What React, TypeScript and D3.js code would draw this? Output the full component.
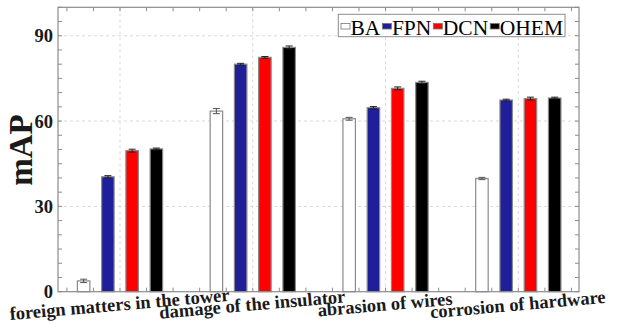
import React, { useEffect, useRef } from "react";
import * as d3 from "d3";

const categories = [
  "foreign matters in the tower",
  "damage of the insulator",
  "abrasion of wires",
  "corrosion of hardware",
];
const seriesNames = ["BA", "FPN", "DCN", "OHEM"];
const BA = [3.8, 63.5, 60.8, 39.8];
const FPN = [40.4, 80.0, 64.7, 67.4];
const DCN = [49.6, 82.4, 71.5, 67.9];
const OHEM = [50.2, 85.9, 73.6, 68.1];
const BA_err = [0.6, 0.9, 0.5, 0.4];
const FPN_err = [0.4, 0.3, 0.4, 0.3];
const DCN_err = [0.5, 0.3, 0.5, 0.5];
const OHEM_err = [0.3, 0.5, 0.4, 0.3];
const yTicks = [0, 30, 60, 90];
const colors = ["#ffffff", "#1f1f99", "#ff0000", "#000000"];

const W = 620;
const H = 324;
const FONT = "'Liberation Serif', 'Times New Roman', serif";

export default function App() {
  const ref = useRef<SVGSVGElement | null>(null);

  useEffect(() => {
    const svg = d3.select(ref.current);
    svg.selectAll("*").remove();

    const left = 58, right = 579, top = 7.3, bottom = 291.7;
    const x = d3.scaleLinear().domain([0.533, 4.457]).range([left, right]);
    const y = d3.scaleLinear().domain([0, 100]).range([bottom, top]);
    const off = d3.scalePoint<string>().domain(seriesNames).range([-0.274, 0.274]);
    const barW = 0.094;

    const values = [BA, FPN, DCN, OHEM];
    const errs = [BA_err, FPN_err, DCN_err, OHEM_err];

    // gridlines
    const grid = svg.append("g");
    yTicks.filter((t) => t > 0).forEach((t) => {
      grid.append("line")
        .attr("x1", left).attr("x2", right)
        .attr("y1", y(t)).attr("y2", y(t))
        .attr("stroke", "#d9d9d9").attr("stroke-dasharray", "3,3").attr("stroke-width", 1);
    });
    categories.forEach((_, i) => {
      grid.append("line")
        .attr("x1", x(i + 1)).attr("x2", x(i + 1))
        .attr("y1", top).attr("y2", bottom)
        .attr("stroke", "#d9d9d9").attr("stroke-dasharray", "3,3").attr("stroke-width", 1);
    });

    // bars
    const bars = svg.append("g");
    seriesNames.forEach((s, si) => {
      categories.forEach((_, ci) => {
        const cx = ci + 1 + (off(s) as number);
        const v = values[si][ci];
        const x0 = x(cx - barW / 2);
        const x1 = x(cx + barW / 2);
        bars.append("rect")
          .attr("x", x0).attr("y", y(v))
          .attr("width", x1 - x0).attr("height", bottom - y(v))
          .attr("fill", colors[si])
          .attr("stroke", "#8a8a8a").attr("stroke-width", 1.2);
        const e = errs[si][ci];
        const ec = si === 0 ? "#555" : "#222";
        const capHalf = 3.5;
        bars.append("line")
          .attr("x1", x(cx)).attr("x2", x(cx))
          .attr("y1", y(v - e)).attr("y2", y(v + e))
          .attr("stroke", ec).attr("stroke-width", 1);
        [v - e, v + e].forEach((yy) => {
          bars.append("line")
            .attr("x1", x(cx) - capHalf).attr("x2", x(cx) + capHalf)
            .attr("y1", y(yy)).attr("y2", y(yy))
            .attr("stroke", ec).attr("stroke-width", 1);
        });
      });
    });

    // axes box
    const axis = svg.append("g");
    axis.append("rect")
      .attr("x", left).attr("y", top)
      .attr("width", right - left).attr("height", bottom - top)
      .attr("fill", "none").attr("stroke", "#8c8c8c").attr("stroke-width", 1.2);

    // ticks
    const yMinor = d3.range(0, 101, 5);
    yMinor.forEach((t) => {
      axis.append("line").attr("x1", left).attr("x2", left + 4)
        .attr("y1", y(t)).attr("y2", y(t)).attr("stroke", "#8c8c8c");
      axis.append("line").attr("x1", right).attr("x2", right - 4)
        .attr("y1", y(t)).attr("y2", y(t)).attr("stroke", "#8c8c8c");
    });
    const xMinor = d3.range(0.6, 4.41, 0.2);
    xMinor.forEach((t) => {
      axis.append("line").attr("x1", x(t)).attr("x2", x(t))
        .attr("y1", bottom).attr("y2", bottom - 4).attr("stroke", "#8c8c8c");
      axis.append("line").attr("x1", x(t)).attr("x2", x(t))
        .attr("y1", top).attr("y2", top + 4).attr("stroke", "#8c8c8c");
    });

    // y tick labels
    yTicks.forEach((t) => {
      axis.append("text")
        .attr("x", 53).attr("y", y(t))
        .attr("dy", "0.35em")
        .attr("text-anchor", "end")
        .attr("font-family", FONT).attr("font-weight", "bold")
        .attr("font-size", 18.5).attr("fill", "#1a1a1a")
        .text(String(t));
    });

    // y label
    svg.append("text")
      .attr("transform", `translate(32,150) rotate(-90)`)
      .attr("text-anchor", "middle")
      .attr("font-family", FONT).attr("font-weight", "bold")
      .attr("font-size", 33).attr("fill", "#1a1a1a")
      .text("mAP");

    // category labels
    categories.forEach((c, i) => {
      svg.append("text")
        .attr("transform", `translate(${x(i + 1)},310.5) rotate(-5)`)
        .attr("text-anchor", "middle")
        .attr("font-family", FONT).attr("font-weight", "bold")
        .attr("font-size", 18.5).attr("fill", "#1a1a1a")
        .text(c);
    });

    // legend
    const lg = svg.append("g");
    const box = lg.append("rect")
      .attr("x", 338.3).attr("y", 14.3)
      .attr("height", 22.4)
      .attr("fill", "#fff").attr("stroke", "#8c8c8c").attr("stroke-width", 1);
    let cursor = 341;
    seriesNames.forEach((s, si) => {
      lg.append("rect")
        .attr("x", cursor).attr("y", 23.5)
        .attr("width", 9).attr("height", 5.5)
        .attr("fill", colors[si]).attr("stroke", "#777").attr("stroke-width", 0.8);
      const t = lg.append("text")
        .attr("x", cursor + 9.5).attr("y", 34.5)
        .attr("font-family", FONT).attr("font-size", 21.5).attr("fill", "#000")
        .text(s);
      const len = (t.node() as SVGTextElement).getComputedTextLength();
      cursor = cursor + 9.5 + len + 2;
    });
    box.attr("width", cursor - 338.3);
  }, []);

  return (
    <svg
      ref={ref}
      width={W}
      height={H}
      style={{ position: "absolute", left: 0, top: 0, background: "#fff" }}
    />
  );
}
